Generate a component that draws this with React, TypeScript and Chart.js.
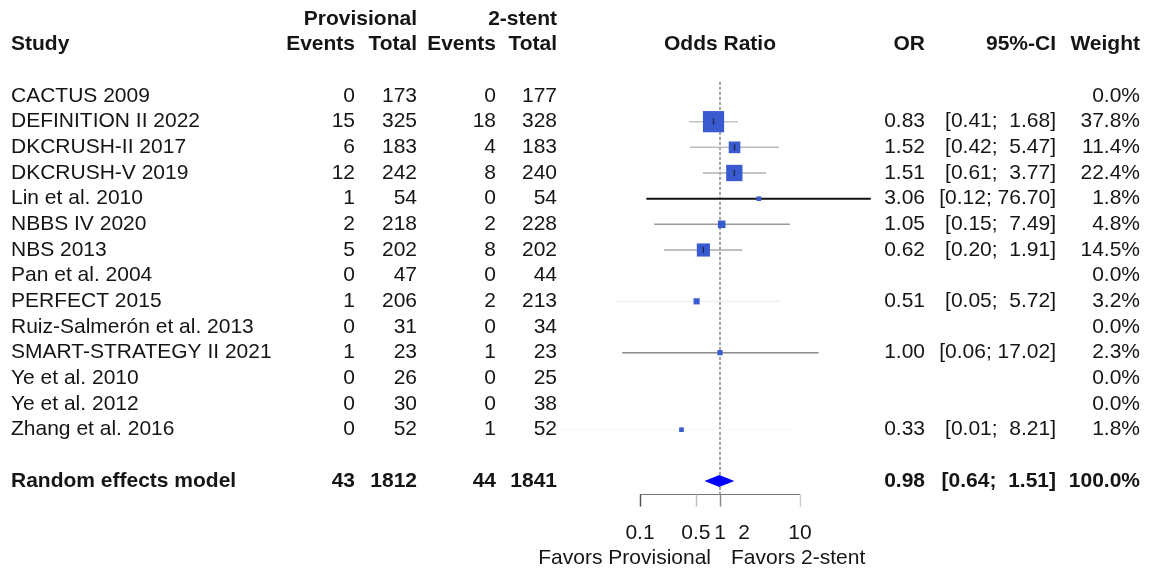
import React, { useEffect, useRef } from "react";
import { Chart, registerables } from "chart.js";

Chart.register(...registerables);

// ---- data ----
const studies = [
  "CACTUS 2009",
  "DEFINITION II 2022",
  "DKCRUSH-II 2017",
  "DKCRUSH-V 2019",
  "Lin et al. 2010",
  "NBBS IV 2020",
  "NBS 2013",
  "Pan et al. 2004",
  "PERFECT 2015",
  "Ruiz-Salmerón et al. 2013",
  "SMART-STRATEGY II 2021",
  "Ye et al. 2010",
  "Ye et al. 2012",
  "Zhang et al. 2016",
];
const provEvents = [0, 15, 6, 12, 1, 2, 5, 0, 1, 0, 1, 0, 0, 0];
const provTotal = [173, 325, 183, 242, 54, 218, 202, 47, 206, 31, 23, 26, 30, 52];
const stentEvents = [0, 18, 4, 8, 0, 2, 8, 0, 2, 0, 1, 0, 0, 1];
const stentTotal = [177, 328, 183, 240, 54, 228, 202, 44, 213, 34, 23, 25, 38, 52];
const oddsRatio: (number | null)[] = [null, 0.83, 1.52, 1.51, 3.06, 1.05, 0.62, null, 0.51, null, 1.0, null, null, 0.33];
const ciLower: (number | null)[] = [null, 0.41, 0.42, 0.61, 0.12, 0.15, 0.2, null, 0.05, null, 0.06, null, null, 0.01];
const ciUpper: (number | null)[] = [null, 1.68, 5.47, 3.77, 76.7, 7.49, 1.91, null, 5.72, null, 17.02, null, null, 8.21];
const weights = [0.0, 37.8, 11.4, 22.4, 1.8, 4.8, 14.5, 0.0, 3.2, 0.0, 2.3, 0.0, 0.0, 1.8];

const pooledLabel = "Random effects model";
const pooledProvEvents = 43;
const pooledProvTotal = 1812;
const pooledStentEvents = 44;
const pooledStentTotal = 1841;
const pooledOR = 0.98;
const pooledLower = 0.64;
const pooledUpper = 1.51;
const pooledWeight = 100.0;

const tickValues = [0.1, 0.5, 1, 2, 10];
const tickLabels = ["0.1", "0.5", "1", "2", "10"];
const labelLeft = "Favors Provisional";
const labelRight = "Favors 2-stent";

// ---- styles ----
const lineColors = ["", "#c4c4c4", "#bdbdbd", "#b0b0b0", "#111111", "#9a9a9a", "#ababab", "", "#eeeeee", "", "#8a8a8a", "", "", "#f8f8f8"];
const lineWidths = [1.5, 1.5, 1.5, 1.5, 2, 1.5, 1.5, 1.5, 1.2, 1.5, 1.5, 1.5, 1.5, 1];
const tickColors = ["#555555", "#c0c0c0", "#888888", "", "#cccccc"];
const BOX = "#3a5bd0";
const TXT = "#151515";
const FONT = '"Liberation Sans", Arial, sans-serif';
const FS = 21;

const POOLED_ROW = 15;

function fmtCI(lo: number, hi: number) {
  return "[" + lo.toFixed(2) + "; " + hi.toFixed(2).padStart(5, " ") + "]";
}

const tablePlugin = {
  id: "forestTable",
  beforeDatasetsDraw(chart: any) {
    const { ctx } = chart;
    const xs = chart.scales.x;
    const ys = chart.scales.y;
    const x1 = xs.getPixelForValue(1);
    ctx.save();
    ctx.strokeStyle = "#444";
    ctx.lineWidth = 1;
    ctx.setLineDash([3, 2]);
    ctx.beginPath();
    ctx.moveTo(x1, ys.getPixelForValue(-0.55));
    ctx.lineTo(x1, ys.getPixelForValue(15.5));
    ctx.stroke();
    ctx.setLineDash([]);
    ctx.restore();
  },
  afterDatasetsDraw(chart: any) {
    const { ctx } = chart;
    const xs = chart.scales.x;
    const ys = chart.scales.y;
    ctx.save();

    // inner marks on boxes
    ctx.strokeStyle = "#1a2a55";
    ctx.lineWidth = 1.5;
    oddsRatio.forEach((v, i) => {
      if (v == null) return;
      const side = 3.45 * Math.sqrt(weights[i]);
      if (side < 9) return;
      const px = xs.getPixelForValue(v);
      const py = ys.getPixelForValue(i);
      ctx.beginPath();
      ctx.moveTo(px, py - 3);
      ctx.lineTo(px, py + 3);
      ctx.stroke();
    });

    // diamond
    const dy = ys.getPixelForValue(POOLED_ROW);
    ctx.fillStyle = "#0000ff";
    ctx.beginPath();
    ctx.moveTo(xs.getPixelForValue(pooledLower), dy);
    ctx.lineTo(xs.getPixelForValue(pooledOR), dy - 6);
    ctx.lineTo(xs.getPixelForValue(pooledUpper), dy);
    ctx.lineTo(xs.getPixelForValue(pooledOR), dy + 6);
    ctx.closePath();
    ctx.fill();

    // axis
    const ay = Math.round(ys.getPixelForValue(15.5)) + 0.5;
    ctx.strokeStyle = "#777";
    ctx.lineWidth = 1;
    ctx.beginPath();
    ctx.moveTo(xs.getPixelForValue(tickValues[0]), ay);
    ctx.lineTo(xs.getPixelForValue(tickValues[tickValues.length - 1]), ay);
    ctx.stroke();
    tickValues.forEach((t, i) => {
      if (!tickColors[i]) return;
      const tx = Math.round(xs.getPixelForValue(t)) + 0.5;
      ctx.strokeStyle = tickColors[i];
      ctx.lineWidth = 1.5;
      ctx.beginPath();
      ctx.moveTo(tx, ay);
      ctx.lineTo(tx, ay + 12);
      ctx.stroke();
    });

    ctx.fillStyle = TXT;
    ctx.textBaseline = "middle";
    ctx.font = `${FS}px ${FONT}`;
    ctx.textAlign = "center";
    const tyl = ys.getPixelForValue(17.05);
    tickValues.forEach((t, i) => {
      ctx.fillText(tickLabels[i], xs.getPixelForValue(t), tyl);
    });
    const fy = ys.getPixelForValue(18.0);
    ctx.textAlign = "right";
    ctx.fillText(labelLeft, xs.getPixelForValue(1) - 9, fy);
    ctx.textAlign = "left";
    ctx.fillText(labelRight, xs.getPixelForValue(1) + 11, fy);

    // headers
    ctx.font = `bold ${FS}px ${FONT}`;
    const h1 = ys.getPixelForValue(-3);
    const h2 = ys.getPixelForValue(-2);
    ctx.textAlign = "right";
    ctx.fillText("Provisional", 417, h1);
    ctx.fillText("2-stent", 557, h1);
    ctx.textAlign = "left";
    ctx.fillText("Study", 11, h2);
    ctx.textAlign = "right";
    ctx.fillText("Events", 355, h2);
    ctx.fillText("Total", 417, h2);
    ctx.fillText("Events", 496, h2);
    ctx.fillText("Total", 557, h2);
    ctx.textAlign = "center";
    ctx.fillText("Odds Ratio", xs.getPixelForValue(1), h2);
    ctx.textAlign = "right";
    ctx.fillText("OR", 925, h2);
    ctx.fillText("95%-CI", 1056, h2);
    ctx.fillText("Weight", 1140, h2);

    // rows
    ctx.font = `${FS}px ${FONT}`;
    studies.forEach((s, i) => {
      const y = ys.getPixelForValue(i);
      ctx.textAlign = "left";
      ctx.fillText(s, 11, y);
      ctx.textAlign = "right";
      ctx.fillText(String(provEvents[i]), 355, y);
      ctx.fillText(String(provTotal[i]), 417, y);
      ctx.fillText(String(stentEvents[i]), 496, y);
      ctx.fillText(String(stentTotal[i]), 557, y);
      const v = oddsRatio[i];
      const lo = ciLower[i];
      const hi = ciUpper[i];
      if (v != null && lo != null && hi != null) {
        ctx.fillText(v.toFixed(2), 925, y);
        ctx.fillText(fmtCI(lo, hi), 1056, y);
      }
      ctx.fillText(weights[i].toFixed(1) + "%", 1140, y);
    });

    // pooled row
    ctx.font = `bold ${FS}px ${FONT}`;
    ctx.textAlign = "left";
    ctx.fillText(pooledLabel, 11, dy);
    ctx.textAlign = "right";
    ctx.fillText(String(pooledProvEvents), 355, dy);
    ctx.fillText(String(pooledProvTotal), 417, dy);
    ctx.fillText(String(pooledStentEvents), 496, dy);
    ctx.fillText(String(pooledStentTotal), 557, dy);
    ctx.fillText(pooledOR.toFixed(2), 925, dy);
    ctx.fillText(fmtCI(pooledLower, pooledUpper), 1056, dy);
    ctx.fillText(pooledWeight.toFixed(1) + "%", 1140, dy);

    ctx.restore();
  },
};

export default function App() {
  const ref = useRef<HTMLCanvasElement | null>(null);

  useEffect(() => {
    if (!ref.current) return;
    const boxData: { x: number; y: number }[] = [];
    const boxRadius: number[] = [];
    const lineSets: any[] = [];
    oddsRatio.forEach((v, i) => {
      if (v == null) return;
      boxData.push({ x: v, y: i });
      const side = 3.45 * Math.sqrt(weights[i]);
      boxRadius.push(side / Math.SQRT2);
      lineSets.push({
        type: "line",
        data: [
          { x: ciLower[i], y: i },
          { x: ciUpper[i], y: i },
        ],
        borderColor: lineColors[i],
        borderWidth: lineWidths[i],
        pointRadius: 0,
        showLine: true,
        clip: false,
        order: 1,
      });
    });

    const chart = new Chart(ref.current, {
      type: "scatter",
      data: {
        datasets: [
          {
            data: boxData,
            pointStyle: "rect",
            pointRadius: boxRadius,
            backgroundColor: BOX,
            borderColor: BOX,
            borderWidth: 0,
            clip: false,
            order: 0,
          } as any,
          ...lineSets,
        ],
      },
      options: {
        animation: false,
        responsive: false,
        devicePixelRatio: 1,
        layout: { padding: { left: 640, right: 350, top: 96, bottom: 90 } },
        plugins: { legend: { display: false }, tooltip: { enabled: false } },
        scales: {
          x: { type: "logarithmic", min: 0.1, max: 10, display: false },
          y: { type: "linear", min: 0, max: 15, reverse: true, display: false },
        },
      },
      plugins: [tablePlugin],
    });
    return () => chart.destroy();
  }, []);

  return (
    <div style={{ position: "absolute", left: 0, top: 0, width: 1150, height: 571, background: "#fff" }}>
      <canvas ref={ref} width={1150} height={571} />
    </div>
  );
}
